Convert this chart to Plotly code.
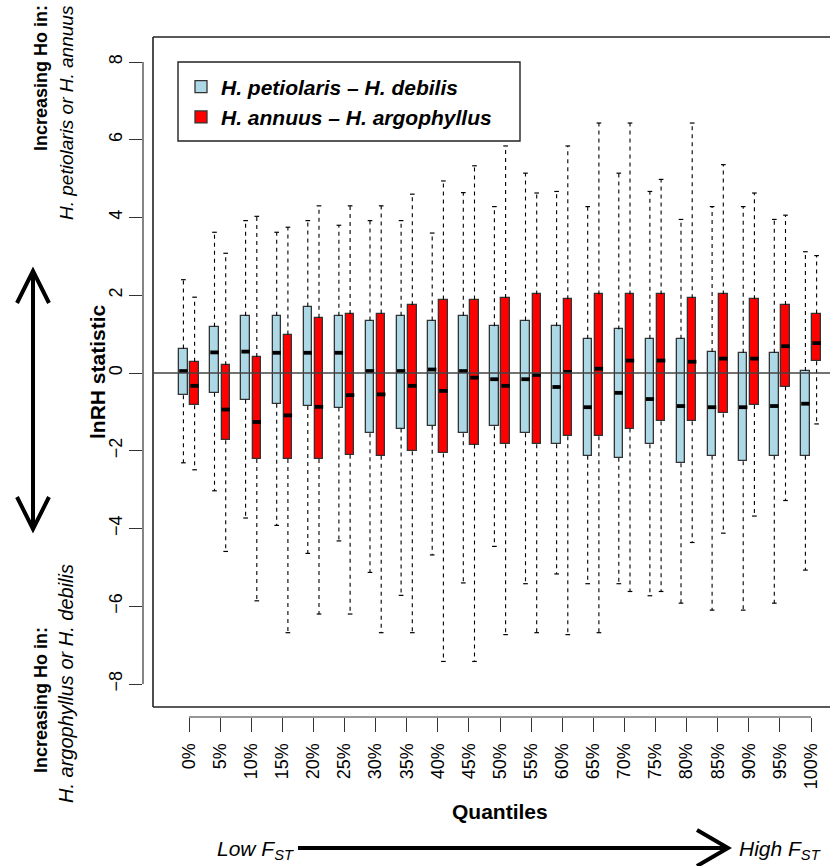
import plotly.graph_objects as go

# ---------------- data ----------------
quantile_labels = ["0%", "5%", "10%", "15%", "20%", "25%", "30%", "35%", "40%", "45%", "50%",
                   "55%", "60%", "65%", "70%", "75%", "80%", "85%", "90%", "95%", "100%"]

# H. petiolaris - H. debilis
pd_lower = [-2.31, -3.03, -3.73, -3.92, -4.64, -4.32, -5.13, -5.72, -4.68, -5.40, -4.46,
            -5.42, -5.17, -5.42, -5.42, -5.73, -5.92, -6.10, -6.10, -5.92, -5.07]
pd_q1 = [-0.57, -0.51, -0.69, -0.79, -0.85, -0.89, -1.55, -1.43, -1.36, -1.55, -1.37,
         -1.55, -1.83, -2.13, -2.18, -1.83, -2.32, -2.13, -2.27, -2.13, -2.13]
pd_median = [0.05, 0.53, 0.55, 0.52, 0.52, 0.52, 0.05, 0.05, 0.09, 0.05, -0.16,
             -0.16, -0.36, -0.88, -0.51, -0.67, -0.85, -0.88, -0.88, -0.85, -0.79]
pd_q3 = [0.63, 1.19, 1.47, 1.47, 1.71, 1.47, 1.35, 1.47, 1.35, 1.47, 1.20,
         1.35, 1.20, 0.88, 1.12, 0.88, 0.88, 0.54, 0.52, 0.52, 0.05]
pd_upper = [2.40, 3.62, 3.92, 3.62, 3.92, 3.80, 3.92, 3.92, 3.60, 4.64, 4.28,
            5.14, 4.67, 4.28, 5.14, 4.67, 3.95, 4.28, 4.28, 3.95, 3.12]

# H. annuus - H. argophyllus
aa_lower = [-2.49, -4.59, -5.86, -6.68, -6.20, -6.20, -6.68, -6.68, -7.42, -7.42, -6.73,
            -6.68, -6.73, -6.68, -5.62, -5.62, -4.36, -4.12, -3.68, -3.28, -1.31]
aa_q1 = [-0.83, -1.73, -2.21, -2.21, -2.21, -2.10, -2.13, -2.01, -2.07, -1.84, -1.83,
         -1.83, -1.63, -1.63, -1.43, -1.24, -1.24, -1.04, -0.82, -0.35, 0.30]
aa_median = [-0.33, -0.94, -1.26, -1.09, -0.87, -0.57, -0.55, -0.33, -0.46, -0.12, -0.33,
             -0.05, 0.03, 0.11, 0.32, 0.32, 0.29, 0.37, 0.37, 0.69, 0.77]
aa_q3 = [0.29, 0.20, 0.41, 0.99, 1.42, 1.52, 1.53, 1.74, 1.89, 1.89, 1.93,
         2.02, 1.90, 2.02, 2.02, 2.02, 1.92, 2.02, 1.90, 1.75, 1.53]
aa_upper = [1.95, 3.08, 4.03, 3.75, 4.30, 4.30, 4.30, 4.60, 4.94, 5.33, 5.84,
            4.63, 5.84, 6.43, 6.43, 4.98, 6.43, 5.36, 4.63, 4.06, 3.02]

y_ticks = [-8, -6, -4, -2, 0, 2, 4, 6, 8]

# ---------------- layout geometry (pixels) ----------------
FIG_W, FIG_H = 830, 866
L, R, T, B = 143, 830, 37, 717
W, H = R - L, B - T


def px_x(p):
    return (p - L) / W


def px_y(p):
    return (B - p) / H


X0_PX, DX_PX = 189.0, 31.1
Y0_PX, DY_PX = 373.0, 38.875
x_range = [(L - X0_PX) / DX_PX, (R - X0_PX) / DX_PX]
y_range = [-(B - Y0_PX) / DY_PX, (Y0_PX - T) / DY_PX]
frame_left = (153 - X0_PX) / DX_PX
frame_bottom = -(707 - Y0_PX) / DY_PX

OFFSET = 0.18
BOX_W = 0.27
CAP_W = 0.15
MED_W = 0.27

FONT = "Liberation Sans, Arial, Helvetica, sans-serif"
positions = list(range(len(quantile_labels)))

fig = go.Figure()


def add_series(name, color, lower, q1, med, q3, upper, off):
    xs = [p + off for p in positions]
    wx, wy, cx, cy, mx, my = [], [], [], [], [], []
    for x, lo, a, m, b, up in zip(xs, lower, q1, med, q3, upper):
        wx += [x, x, None, x, x, None]
        wy += [b, up, None, a, lo, None]
        cx += [x - CAP_W / 2, x + CAP_W / 2, None, x - CAP_W / 2, x + CAP_W / 2, None]
        cy += [up, up, None, lo, lo, None]
        mx += [x - MED_W / 2, x + MED_W / 2, None]
        my += [m, m, None]
    fig.add_trace(go.Scatter(x=wx, y=wy, mode="lines", showlegend=False, hoverinfo="skip",
                             line=dict(color="black", width=1.1, dash="4px,4px")))
    fig.add_trace(go.Scatter(x=cx, y=cy, mode="lines", showlegend=False, hoverinfo="skip",
                             line=dict(color="black", width=1.2)))
    fig.add_trace(go.Bar(x=xs, base=q1, y=[b - a for a, b in zip(q1, q3)], width=BOX_W,
                         name=name, marker=dict(color=color, line=dict(color="#333333", width=1.3))))
    fig.add_trace(go.Scatter(x=mx, y=my, mode="lines", showlegend=False, hoverinfo="skip",
                             line=dict(color="black", width=3.8)))


add_series("<b><i>H. petiolaris – H. debilis</i></b>", "#ADD8E6",
           pd_lower, pd_q1, pd_median, pd_q3, pd_upper, -OFFSET)
add_series("<b><i>H. annuus – H. argophyllus</i></b>", "#FF0000",
           aa_lower, aa_q1, aa_median, aa_q3, aa_upper, OFFSET)

line_col = "#222222"
shapes = [
    # plot frame (left, top, bottom; right edge is off the picture)
    dict(type="line", xref="x", yref="y", x0=frame_left, x1=frame_left, y0=frame_bottom, y1=y_range[1],
         line=dict(color=line_col, width=1.6)),
    dict(type="line", xref="x", yref="paper", x0=frame_left, x1=x_range[1] + 1, y0=1, y1=1,
         line=dict(color=line_col, width=1.6)),
    dict(type="line", xref="x", yref="y", x0=frame_left, x1=x_range[1] + 1, y0=frame_bottom, y1=frame_bottom,
         line=dict(color=line_col, width=1.6)),
    # R-style axis lines
    dict(type="line", xref="paper", yref="y", x0=0, x1=0, y0=y_ticks[0], y1=y_ticks[-1],
         line=dict(color="#333333", width=1.2)),
    dict(type="line", xref="x", yref="paper", x0=positions[0], x1=positions[-1], y0=0, y1=0,
         line=dict(color="#333333", width=1.2)),
    # zero line
    dict(type="line", xref="x", yref="y", x0=frame_left, x1=x_range[1] + 1, y0=0, y1=0,
         line=dict(color="#444444", width=1.5), layer="above"),
    # legend frame
    dict(type="rect", xref="paper", yref="paper", x0=px_x(178), x1=px_x(520), y0=px_y(141), y1=px_y(62),
         line=dict(color=line_col, width=1.4), fillcolor="rgba(0,0,0,0)"),
]


def path(points):
    return "M " + " L ".join(f"{px_x(a):.5f},{px_y(b):.5f}" for a, b in points)


arrow_line = dict(color="black", width=4)
shapes += [
    dict(type="line", xref="paper", yref="paper", x0=px_x(33), x1=px_x(33), y0=px_y(272), y1=px_y(527),
         line=arrow_line),
    dict(type="path", xref="paper", yref="paper", path=path([(17, 303), (33, 271), (49, 303)]),
         line=arrow_line),
    dict(type="path", xref="paper", yref="paper", path=path([(17, 497), (33, 529), (49, 497)]),
         line=arrow_line),
    dict(type="line", xref="paper", yref="paper", x0=px_x(298), x1=px_x(726), y0=px_y(848), y1=px_y(848),
         line=arrow_line),
    dict(type="path", xref="paper", yref="paper", path=path([(697, 830), (728, 848), (697, 866)]),
         line=arrow_line),
]

ann = []


def add_text(text, x, y, size, angle=0, xanchor="center", yanchor="middle"):
    ann.append(dict(text=text, xref="paper", yref="paper", x=px_x(x), y=px_y(y), showarrow=False,
                    textangle=angle, xanchor=xanchor, yanchor=yanchor,
                    font=dict(family=FONT, size=size, color="black")))


add_text("<b>lnRH statistic</b>", 97, 372, 21, -90)
add_text("<b>Quantiles</b>", 500, 811, 21)
add_text("<b>Increasing Ho in:</b>", 41, 78, 18, -90)
add_text("<i>H. petiolaris or H. annuus</i>", 66, 113, 19, -90)
add_text("<b>Increasing Ho in:</b>", 41, 700, 18, -90)
add_text("<i>H. argophyllus or H. debilis</i>", 66, 684, 20, -90)
add_text("<i>Low F<sub>ST</sub></i>", 296, 850, 21, xanchor="right")
add_text("<i>High F<sub>ST</sub></i>", 737, 850, 21, xanchor="left")

fig.update_layout(
    width=FIG_W, height=FIG_H,
    margin=dict(l=L, r=FIG_W - R, t=T, b=FIG_H - B, pad=0),
    paper_bgcolor="white", plot_bgcolor="white",
    barmode="overlay", bargap=0,
    font=dict(family=FONT, size=18, color="black"),
    showlegend=True,
    legend=dict(x=px_x(181), y=px_y(102), xanchor="left", yanchor="middle",
                font=dict(family=FONT, size=21, color="black"),
                bgcolor="rgba(0,0,0,0)", borderwidth=0, tracegroupgap=0),
    shapes=shapes, annotations=ann,
)
fig.update_xaxes(range=x_range, tickmode="array", tickvals=positions, ticktext=quantile_labels,
                 tickangle=-90, ticks="outside", ticklen=14, tickwidth=1.2, tickcolor="#333333",
                 showline=False, showgrid=False, zeroline=False, tickfont=dict(size=18),
                 ticklabelstandoff=4, fixedrange=True)
fig.update_yaxes(range=y_range, tickmode="array", tickvals=y_ticks,
                 ticktext=[str(v).replace("-", "\u2212") for v in y_ticks],
                 tickangle=-90, ticks="outside", ticklen=13, tickwidth=1.2, tickcolor="#333333",
                 showline=False, showgrid=False, zeroline=False, tickfont=dict(size=18),
                 fixedrange=True)

fig.write_html("out.html", config={"displayModeBar": False},
               post_script="document.body.style.margin='0';document.body.style.overflow='hidden';")
